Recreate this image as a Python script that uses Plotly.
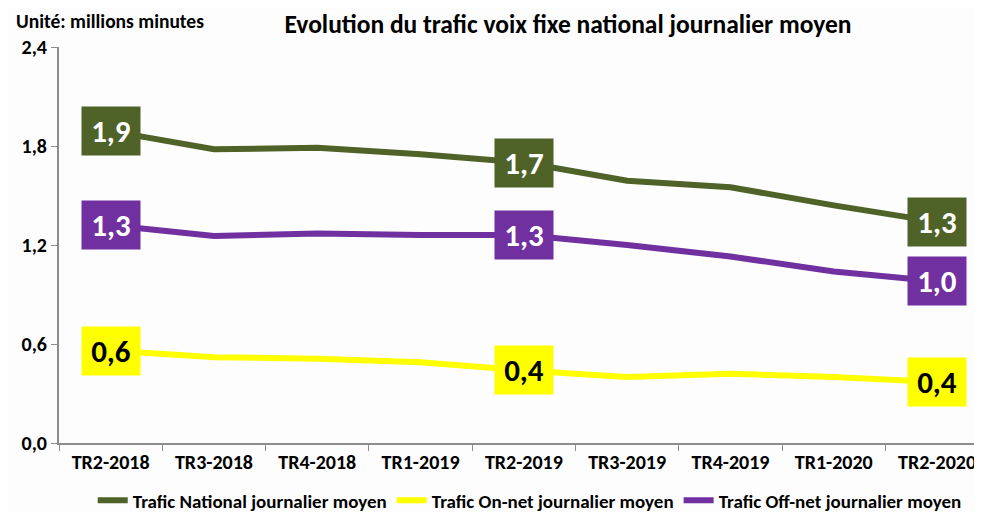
import plotly.graph_objects as go

# Trimestres
quarters = ["TR2-2018", "TR3-2018", "TR4-2018", "TR1-2019", "TR2-2019",
            "TR3-2019", "TR4-2019", "TR1-2020", "TR2-2020"]

# Trafic journalier moyen (millions de minutes)
national = [1.89, 1.78, 1.79, 1.75, 1.70, 1.59, 1.55, 1.44, 1.34]
on_net = [0.56, 0.52, 0.51, 0.49, 0.44, 0.40, 0.42, 0.40, 0.37]
off_net = [1.32, 1.255, 1.27, 1.26, 1.26, 1.20, 1.13, 1.04, 0.98]

# points that carry a value label
label_idx = [0, 4, 8]

FONT = "Carlito, Lato, 'Open Sans', sans-serif"

series = [
    ("Trafic National journalier moyen", national, "#4F6228", "white"),
    ("Trafic On-net journalier moyen", on_net, "#FFFF00", "black"),
    ("Trafic Off-net journalier moyen", off_net, "#7030A0", "white"),
]

fig = go.Figure()

for name, values, color, txt_color in series:
    fig.add_trace(go.Scatter(
        x=quarters,
        y=values,
        name=f"<b>{name}</b>",
        mode="lines",
        line=dict(color=color, width=6),
    ))
    for i in label_idx:
        fig.add_annotation(
            x=quarters[i], y=values[i],
            text=f"<b>{values[i]:.1f}</b>".replace(".", ","),
            showarrow=False,
            bgcolor=color,
            width=56, height=46,
            font=dict(family=FONT, size=31, color=txt_color),
        )

# Unit label
fig.add_annotation(
    xref="paper", yref="paper", x=-0.049, y=1.066,
    xanchor="left", yanchor="middle",
    text="<b>Unité: millions minutes</b>", showarrow=False,
    font=dict(family=FONT, size=19.5, color="black"),
)

# the page body adds an 8px margin, so the figure is 8px smaller than the window
fig.update_layout(
    title=dict(
        text="<b>Evolution du trafic voix fixe national journalier moyen</b>",
        x=0.575, xanchor="center", y=0.969, yanchor="middle",
        font=dict(family=FONT, size=25.5, color="black"),
    ),
    width=974, height=504,
    margin=dict(l=51, r=0, t=39, b=69, autoexpand=False),
    paper_bgcolor="#fdfdfd",
    plot_bgcolor="#fdfdfd",
    separators=", ",
    showlegend=True,
    legend=dict(
        orientation="h",
        x=0.51, xanchor="center",
        y=-0.145, yanchor="middle",
        font=dict(family=FONT, size=19, color="black"),
        itemwidth=30,
        tracegroupgap=0,
    ),
    font=dict(family=FONT),
)

fig.update_xaxes(
    type="category",
    range=[-0.5, 8.435],
    showline=True, linecolor="#8c8c8c", linewidth=2,
    ticks="outside", tickson="boundaries", ticklen=6, tickcolor="#8c8c8c",
    tickfont=dict(family=FONT, size=20, color="black"),
    tickprefix="<b>", ticksuffix="</b>",
    showgrid=False,
)

fig.update_yaxes(
    range=[0, 2.4], dtick=0.6, tickformat=".1f",
    showline=True, linecolor="#8c8c8c", linewidth=2,
    ticks="outside", ticklen=6, tickcolor="#8c8c8c",
    tickfont=dict(family=FONT, size=20, color="black"),
    tickprefix="<b>", ticksuffix="</b>",
    showgrid=False, zeroline=False,
)

fig.write_html("out.html")
